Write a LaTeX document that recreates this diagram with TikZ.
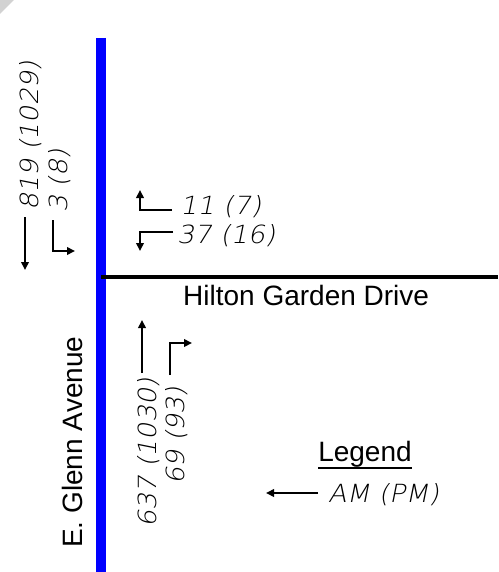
\documentclass[tikz,border=0pt]{standalone}
\usepackage{fontspec}
\setmainfont{Liberation Sans}
\newfontfamily\cadfont[FakeSlant=0.2,FakeStretch=1.08]{DejaVu Sans ExtraLight}
\usetikzlibrary{positioning}
\usetikzlibrary{arrows.meta}

\begin{document}
\begin{tikzpicture}[
    x=1pt, y=-1pt,
    street/.style={inner sep=0pt, font=\fontsize{28}{28}\selectfont},
    volume/.style={inner sep=0pt, font=\cadfont\fontsize{25}{25}\selectfont},
    move/.style={-{Triangle[length=8pt,width=7.5pt]}, line width=2.3pt}
]
    \useasboundingbox (0,0) rectangle (498,572);
    \fill[white] (0,0) rectangle (498,572);
    \fill[gray!35] (0,0) -- (14,0) -- (0,14) -- cycle;

    % Roads
    \draw[blue, line width=10pt] (101,38) -- (101,572);
    \draw[line width=4pt] (101,277) -- (498,277);

    % Street names
    \node[street, anchor=base west] (hgd) at (183,305) {Hilton Garden Drive};
    \node[street, anchor=base west, rotate=90] (egl) at (82,548) {E. Glenn Avenue};

    % Southbound volumes
    \node[volume, anchor=base west, rotate=90] (sbthru) at (38,211) {819 (1029)};
    \node[volume, anchor=base west, rotate=90] (sbright) at (67,213) {3 (8)};
    \coordinate (sbthrua) at (25,217);
    \coordinate (sbthrub) at (25,270);
    \draw[move] (sbthrua) -- (sbthrub);
    \coordinate (sbrighta) at (53,220);
    \coordinate (sbrightb) at (53,251);
    \coordinate (sbrightc) at (75,251);
    \draw[move] (sbrighta) -- (sbrightb) -- (sbrightc);

    % Westbound volumes
    \node[volume, anchor=base west] (wbleft) at (180,214) {11 (7)};
    \node[volume, anchor=base west] (wbright) at (177,243) {37 (16)};
    \coordinate (wblefta) at (172,210);
    \coordinate (wbleftb) at (140,210);
    \coordinate (wbleftc) at (140,190);
    \draw[move] (wblefta) -- (wbleftb) -- (wbleftc);
    \coordinate (wbrighta) at (173,232);
    \coordinate (wbrightb) at (140,232);
    \coordinate (wbrightc) at (140,251);
    \draw[move] (wbrighta) -- (wbrightb) -- (wbrightc);

    % Northbound volumes
    \node[volume, anchor=base west, rotate=90] (nbthru) at (156,528) {637 (1030)};
    \node[volume, anchor=base west, rotate=90] (nbright) at (184,485) {69 (93)};
    \coordinate (nbthrua) at (142,373);
    \coordinate (nbthrub) at (142,320);
    \draw[move] (nbthrua) -- (nbthrub);
    \coordinate (nbrighta) at (170,375);
    \coordinate (nbrightb) at (170,343);
    \coordinate (nbrightc) at (192,343);
    \draw[move] (nbrighta) -- (nbrightb) -- (nbrightc);

    % Legend
    \node[street, anchor=base] (legend) at (365,461) {Legend};
    \draw[line width=1.5pt] ([yshift=-7pt]legend.base west) -- ([yshift=-7pt]legend.base east);
    \node[volume, anchor=base west] (legam) at (328,502) {AM (PM)};
    \coordinate (legtail) at (318,493);
    \coordinate (legarrow) at (266,493);
    \draw[move] (legtail) -- (legarrow);
\end{tikzpicture}
\end{document}
